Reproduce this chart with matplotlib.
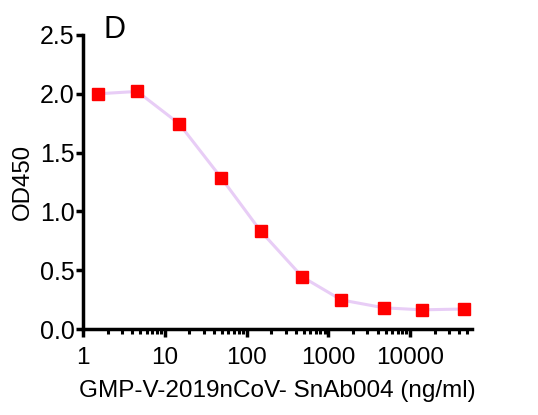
import matplotlib
matplotlib.use("Agg")
import matplotlib.pyplot as plt
from matplotlib.ticker import LogLocator, FixedLocator, FixedFormatter, NullFormatter

plt.rcParams['font.family'] = ['Liberation Sans', 'DejaVu Sans']

conc = [1.52, 4.6, 15.0, 49.0, 148.0, 480.0, 1440.0, 4800.0, 14000.0, 45500.0]
od450 = [2.00, 2.02, 1.745, 1.285, 0.834, 0.443, 0.247, 0.180, 0.163, 0.170]
xticks = [1, 10, 100, 1000, 10000]
xtick_labels = ["1", "10", "100", "1000", "10000"]
yticks = [0.0, 0.5, 1.0, 1.5, 2.0, 2.5]
ytick_labels = ["0.0", "0.5", "1.0", "1.5", "2.0", "2.5"]

fig = plt.figure(figsize=(5.38, 4.15), dpi=100)
ax = fig.add_axes([83/538, (415-329)/415, (472-83)/538, (329-35)/415])

ax.plot(conc, od450, color='#e8cdf6', lw=2.2, zorder=2, solid_capstyle='round')
ax.plot(conc, od450, ls='none', marker='s', ms=8.5, color='#ff0000', mec='#ff0000', zorder=3)

ax.set_xscale('log')
ax.set_xlim(1, 57000)
ax.set_ylim(0, 2.5)
ax.xaxis.set_major_locator(FixedLocator(xticks))
ax.xaxis.set_major_formatter(FixedFormatter(xtick_labels))
ax.xaxis.set_minor_locator(LogLocator(base=10, subs=range(2, 10), numticks=20))
ax.xaxis.set_minor_formatter(NullFormatter())
ax.yaxis.set_major_locator(FixedLocator(yticks))
ax.yaxis.set_major_formatter(FixedFormatter(ytick_labels))

for s in ['top', 'right']:
    ax.spines[s].set_visible(False)
for s in ['left', 'bottom']:
    ax.spines[s].set_linewidth(2.5)
ax.tick_params(axis='both', which='major', width=2.5, length=5, color='black')
ax.tick_params(axis='x', which='major', length=6, pad=7, labelsize=17.5)
ax.tick_params(axis='x', which='minor', width=2.2, length=3.5)
ax.tick_params(axis='y', which='major', pad=1, labelsize=18)

ax.set_xlabel('GMP-V-2019nCoV- SnAb004 (ng/ml)', fontsize=17.5, labelpad=8)
ax.set_ylabel('OD450', fontsize=17.3, labelpad=4)
fig.text(104/538, 1 - 38/415, 'D', fontsize=22, ha='left', va='baseline')

fig.savefig('out.png', dpi=100)
